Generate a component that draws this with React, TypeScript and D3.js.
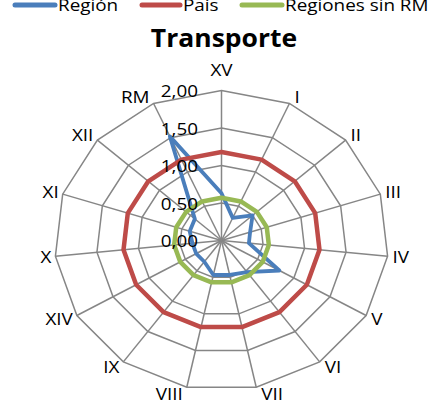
import React from 'react';
import * as d3 from 'd3';

const categories = ['XV', 'I', 'II', 'III', 'IV', 'V', 'VI', 'VII', 'VIII', 'IX', 'XIV', 'X', 'XI', 'XII', 'RM'];
const region = [0.63, 0.33, 0.5, 0.36, 0.33, 0.8, 0.52, 0.47, 0.47, 0.35, 0.35, 0.35, 0.4, 0.43, 1.52];
const pais = [1.18, 1.18, 1.18, 1.18, 1.18, 1.18, 1.18, 1.18, 1.18, 1.18, 1.18, 1.18, 1.18, 1.18, 1.18];
const sinRM = [0.57, 0.57, 0.57, 0.57, 0.57, 0.57, 0.57, 0.57, 0.57, 0.57, 0.57, 0.57, 0.57, 0.57, 0.57];
const tickValues = [0, 0.5, 1, 1.5, 2];
const tickLabels = ['0,00', '0,50', '1,00', '1,50', '2,00'];
const seriesNames = ['Región', 'País', 'Regiones sin RM'];
const seriesColors = ['#4A7EBB', '#BE4B48', '#98B954'];
const title = 'Transporte';

const W = 442;
const H = 409;
const cx = 221.5;
const cy = 240.5;
const rx = 167;
const ry = 150;
const FONT = "Open Sans";

const rScale = d3.scaleLinear().domain([0, 2]).range([0, 1]);
const angle = d3.scaleLinear().domain([0, categories.length]).range([0, 2 * Math.PI]);

function pt(i: number, v: number): [number, number] {
  const a = angle(i);
  const r = rScale(v);
  return [cx + rx * r * Math.sin(a), cy - ry * r * Math.cos(a)];
}

const closedLine = d3.line<[number, number]>().curve(d3.curveLinearClosed);

function SText({ x, y, anchor = 'start', size = 16, weight = 'normal', sx = 1.18, children }: any) {
  return (
    <g transform={`translate(${x},${y}) scale(${sx},1)`}>
      <text textAnchor={anchor} fontSize={size} fontWeight={weight} fontFamily={FONT} dy="0.35em" fill="#000">
        {children}
      </text>
    </g>
  );
}

export default function App() {
  const series = [region, pais, sinRM];
  const legendX = [[15, 55], [142, 180], [242, 282]];
  return (
    <svg width={W} height={H} fontFamily={FONT} style={{ position: 'absolute', left: 0, top: 0, background: '#fff' }}>
      {tickValues.filter(t => t > 0).map(t => (
        <path key={'ring' + t}
          d={closedLine(categories.map((_, i) => pt(i, t))) || ''}
          fill="none" stroke="#868686" strokeWidth={1.5} />
      ))}
      {categories.map((c, i) => {
        const [x, y] = pt(i, 2);
        return <line key={'sp' + c} x1={cx} y1={cy} x2={x} y2={y} stroke="#868686" strokeWidth={1.5} />;
      })}
      {series.map((s, k) => (
        <path key={'s' + k}
          d={closedLine(s.map((v, i) => pt(i, v))) || ''}
          fill="none" stroke={seriesColors[k]} strokeWidth={k === 0 ? 3.8 : 4.5} strokeLinejoin="round" />
      ))}
      {tickValues.map((t, j) => (
        <SText key={'tk' + t} x={198} y={pt(0, t)[1] + 1} anchor="end" size={16}>{tickLabels[j]}</SText>
      ))}
      {categories.map((c, i) => {
        const a = angle(i);
        const [vx, vy] = pt(i, 2);
        const s = Math.sin(a);
        const anchor = Math.abs(s) < 0.1 ? 'middle' : s > 0 ? 'start' : 'end';
        const x = vx + (anchor === 'start' ? 5 : anchor === 'end' ? -4 : 0);
        const y = Math.abs(s) < 0.1 ? vy - 20 : vy - 7 * Math.cos(a);
        return <SText key={'lb' + c} x={x} y={y} anchor={anchor} size={16}>{c}</SText>;
      })}
      <g transform={`translate(224,47) scale(1.06,1)`}>
        <text textAnchor="middle" fontSize={25} fontWeight="bold" fontFamily={FONT}>{title}</text>
      </g>
      {seriesNames.map((n, k) => (
        <g key={'lg' + k}>
          <line x1={legendX[k][0]} x2={legendX[k][1]} y1={5} y2={5} stroke={seriesColors[k]} strokeWidth={5} strokeLinecap="round" />
          <SText x={legendX[k][1] + 3} y={5} anchor="start" size={16}>{n}</SText>
        </g>
      ))}
    </svg>
  );
}
